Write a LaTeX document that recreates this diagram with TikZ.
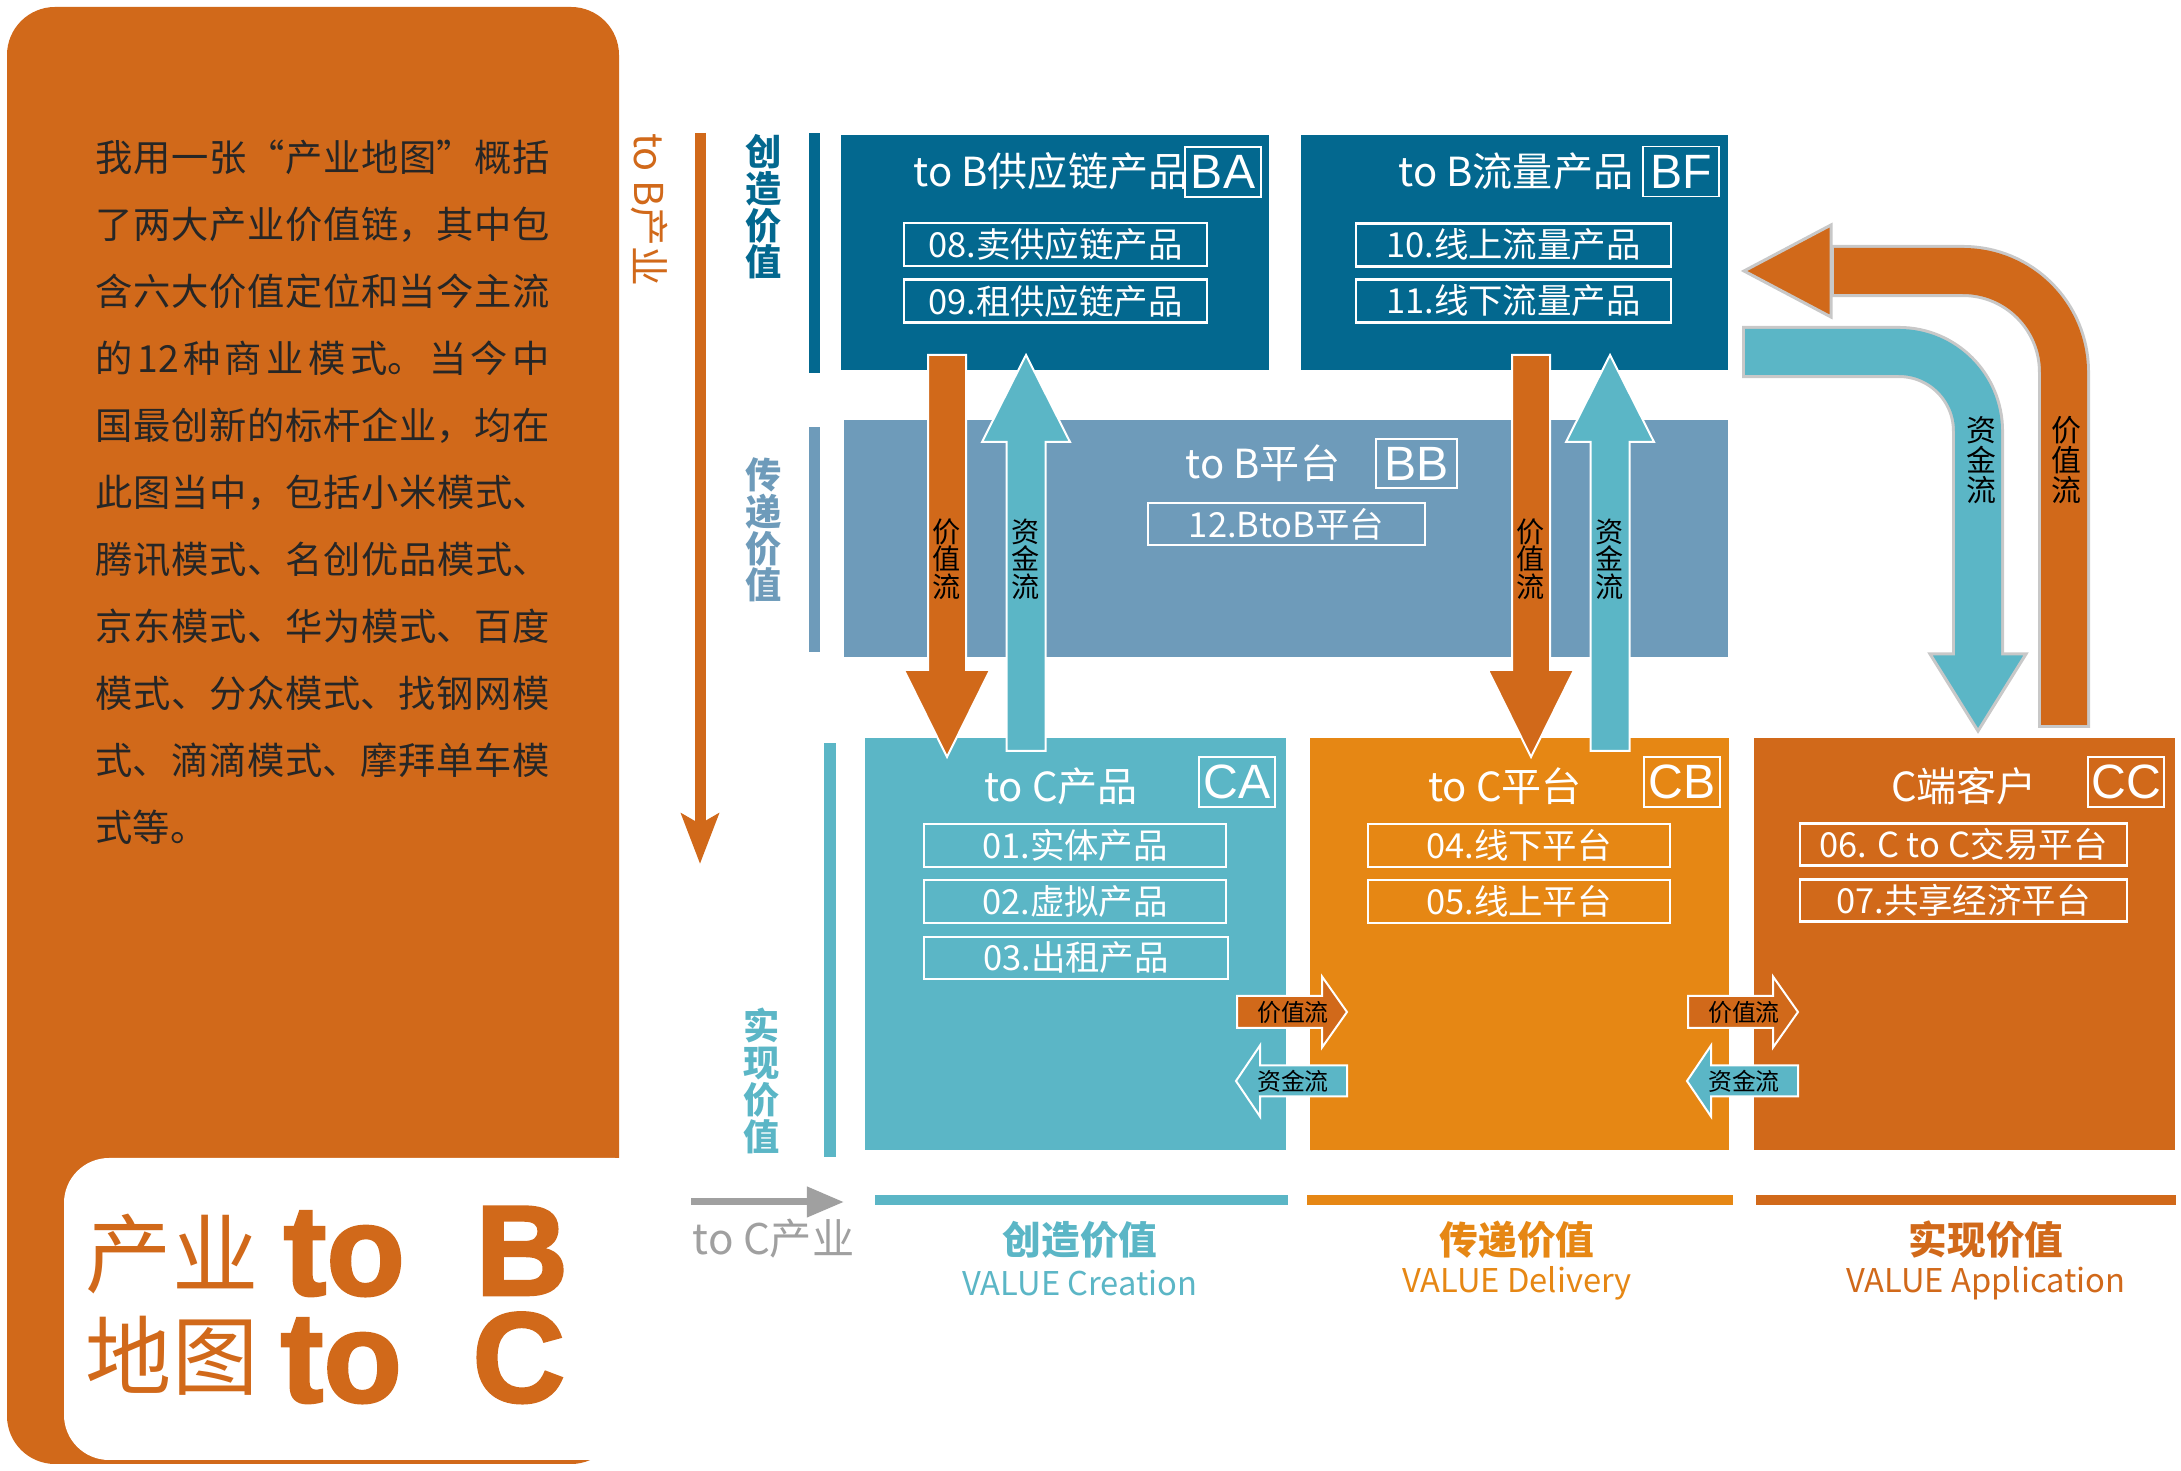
\documentclass[tikz,border=0pt]{standalone}
\usepackage{fontspec}
\usetikzlibrary{arrows.meta}
\newfontfamily\cjk{Noto Sans CJK SC}
\newfontfamily\latin{Liberation Sans}
\newfontfamily\heavy{Liberation Sans}[FakeBold=2]
\XeTeXlinebreaklocale "zh"
\XeTeXlinebreakskip=0pt plus 4pt

\definecolor{tbdark}{HTML}{03688F}
\definecolor{tbmid}{HTML}{6E9BBA}
\definecolor{tcteal}{HTML}{5BB6C6}
\definecolor{tcorange}{HTML}{E68714}
\definecolor{tcrust}{HTML}{D1691A}
\definecolor{arrowgray}{HTML}{A0A0A0}
\definecolor{rimgray}{HTML}{C8C8C8}

\newcommand{\setfs}[2]{\fontsize{#1}{#2}\selectfont}
% vertical block arrow: style, x, tail y, base y, tip y, half shaft, half head
\newcommand{\vblock}[7]{%
  \draw[#1] (#2-#6,#3) -- (#2-#6,#4) -- (#2-#7,#4) -- (#2,#5)
    -- (#2+#7,#4) -- (#2+#6,#4) -- (#2+#6,#3) -- cycle;}
% horizontal block arrow: style, y, tail x, base x, tip x, half shaft, half head
\newcommand{\hblock}[7]{%
  \draw[#1] (#3,#2-#6) -- (#4,#2-#6) -- (#4,#2-#7) -- (#5,#2)
    -- (#4,#2+#7) -- (#4,#2+#6) -- (#3,#2+#6) -- cycle;}

\begin{document}
\begin{tikzpicture}[x=0.01cm, y=-0.01cm,
  zone/.style={inner sep=0pt, outer sep=0pt},
  boxtitle/.style={inner sep=0pt, text=white, font=\cjk\setfs{11.4}{13}},
  codebox/.style={draw=white, line width=0.012cm, inner sep=0pt, minimum width=0.76cm,
    minimum height=0.5cm, text=white, font=\latin\setfs{13.7}{14}},
  itembox/.style={draw=white, line width=0.025cm, inner sep=0pt, minimum height=0.43cm,
    text=white, font=\cjk\setfs{9.8}{11}},
  vlabel/.style={inner sep=0pt, align=center, font=\cjk\bfseries\setfs{10.3}{10.45}},
  flowtext/.style={inner sep=0pt, align=center, text=black, font=\cjk\setfs{8}{7.8}},
  smalltext/.style={inner sep=0pt, text=black, font=\cjk\setfs{6.8}{8}},
  whiterim/.style={draw=white, line width=0.02cm},
  valuehead/.style={inner sep=0pt, font=\cjk\bfseries\setfs{11}{12}},
  valuesub/.style={inner sep=0pt, font=\cjk\setfs{9.3}{10}},
  bigword/.style={inner sep=0pt, anchor=base west, font=\heavy\bfseries\setfs{36.5}{37}, text=tcrust}]
  \useasboundingbox (0,0) rectangle (2181,1471);
  \fill[white] (0,0) rectangle (2181,1471);

  % left panel
  \fill[tcrust, rounded corners=0.48cm] (7,7) rectangle (619,1464);
  \fill[white, rounded corners=0.45cm] (64,1158) rectangle (660,1460);
  \node[anchor=north west, inner sep=0pt, text width=4.54cm, align=justify,
    font=\cjk\setfs{10.6}{19.06}, text=black!85] (intro) at (95,139)
    {\noindent\tolerance=9999 我用一张“产业地图”概括\linebreak
     了两大产业价值链，其中包\linebreak
     含六大价值定位和当今主流\linebreak
     的12种商业模式。当今中\linebreak
     国最创新的标杆企业，均在\linebreak
     此图当中，包括小米模式、\linebreak
     腾讯模式、名创优品模式、\linebreak
     京东模式、华为模式、百度\linebreak
     模式、分众模式、找钢网模\linebreak
     式、滴滴模式、摩拜单车模\linebreak
     式等。};
  \node[inner sep=0pt, font=\cjk\setfs{24.5}{25}, text=tcrust] (cn1) at (172,1254) {产业};
  \node[inner sep=0pt, font=\cjk\setfs{24.5}{25}, text=tcrust] (cn2) at (172,1356) {地图};
  \node[bigword] (toB) at (283,1295) {to\hspace{0.55em}B};
  \node[bigword] (toC) at (280,1402) {to\hspace{0.55em}C};

  % to B axis
  \node[inner sep=0pt, rotate=-90, font=\cjk\setfs{11.3}{12}, text=tcrust] (tobtext) at (649,210) {to B产业};
  \coordinate (tobS) at (700,133);
  \coordinate (tobE) at (700,864);
  \draw[tcrust, line width=0.11cm, -{Stealth[length=0.5cm, width=0.37cm, inset=0.1cm]}] (tobS) -- (tobE);

  % row labels
  \fill[tbdark] (809,133) rectangle (820,373);
  \fill[tbmid] (809,427) rectangle (820,652);
  \fill[tcteal] (824,743) rectangle (836,1157);
  \node[vlabel, text=tbdark] (rowA) at (764,207) {创\\造\\价\\值};
  \node[vlabel, text=tbmid] (rowB) at (764,530) {传\\递\\价\\值};
  \node[vlabel, text=tcteal] (rowC) at (762,1081) {实\\现\\价\\值};

  % to B boxes
  \node[zone, fill=tbdark, minimum width=4.28cm, minimum height=2.35cm] (BA) at (1055,252.5) {};
  \node[zone, fill=tbdark, minimum width=4.27cm, minimum height=2.35cm] (BF) at (1514.5,252.5) {};
  \node[zone, fill=tbmid, minimum width=8.84cm, minimum height=2.37cm] (BB) at (1286,538.5) {};
  \node[boxtitle] (tBA) at (1051,171) {to B供应链产品};
  \node[codebox] (cBA) at (1223,172) {BA};
  \node[itembox, minimum width=3.03cm] (i08) at (1055.5,244.5) {08.卖供应链产品};
  \node[itembox, minimum width=3.03cm] (i09) at (1055.5,301) {09.租供应链产品};
  \node[boxtitle] (tBF) at (1516,171) {to B流量产品};
  \node[codebox] (cBF) at (1681,171.5) {BF};
  \node[itembox, minimum width=3.15cm] (i10) at (1513.5,245) {10.线上流量产品};
  \node[itembox, minimum width=3.15cm] (i11) at (1513.5,301) {11.线下流量产品};
  \node[boxtitle] (tBB) at (1263,463) {to B平台};
  \node[codebox, minimum width=0.81cm, minimum height=0.49cm] (cBB) at (1416.5,463.5) {BB};
  \node[itembox, minimum width=2.77cm, minimum height=0.42cm] (i12) at (1286.5,524) {12.BtoB平台};

  % to C boxes
  \node[zone, fill=tcteal, minimum width=4.21cm, minimum height=4.12cm] (CA) at (1075.5,944) {};
  \node[zone, fill=tcorange, minimum width=4.19cm, minimum height=4.12cm] (CB) at (1519.5,944) {};
  \node[zone, fill=tcrust, minimum width=4.21cm, minimum height=4.12cm] (CC) at (1964.5,944) {};
  \node[boxtitle] (tCA) at (1061,786) {to C产品};
  \node[codebox] (cCA) at (1237,782) {CA};
  \node[itembox, minimum width=3.02cm] (i01) at (1075,845.5) {01.实体产品};
  \node[itembox, minimum width=3.02cm] (i02) at (1075,901.5) {02.虚拟产品};
  \node[itembox, minimum width=3.04cm, minimum height=0.42cm] (i03) at (1076,958) {03.出租产品};
  \node[boxtitle] (tCB) at (1505,786) {to C平台};
  \node[codebox] (cCB) at (1682,782) {CB};
  \node[itembox, minimum width=3.02cm] (i04) at (1519,845.5) {04.线下平台};
  \node[itembox, minimum width=3.02cm] (i05) at (1519,901.5) {05.线上平台};
  \node[boxtitle] (tCC) at (1964,786) {C端客户};
  \node[codebox] (cCC) at (2126,782) {CC};
  \node[itembox, minimum width=3.27cm, minimum height=0.42cm] (i06) at (1963.5,844.5) {06. C to C交易平台};
  \node[itembox, minimum width=3.27cm, minimum height=0.42cm] (i07) at (1963.5,900.5) {07.共享经济平台};

  % flows between the rows
  \vblock{fill=tcrust, whiterim}{947}{355}{670}{757}{19}{43}
  \vblock{fill=tcteal, whiterim}{1026}{751}{442}{355}{19.5}{44}
  \vblock{fill=tcrust, whiterim}{1531}{355}{670}{757}{19}{43}
  \vblock{fill=tcteal, whiterim}{1610}{751}{442}{355}{19.5}{44}
  \node[flowtext] (vA) at (947,559) {价\\值\\流};
  \node[flowtext] (fA) at (1026,559) {资\\金\\流};
  \node[flowtext] (vB) at (1531,559) {价\\值\\流};
  \node[flowtext] (fB) at (1610,559) {资\\金\\流};

  % flows between the columns
  \hblock{fill=tcrust, whiterim}{1012}{1237}{1322}{1347}{16}{35.5}
  \hblock{fill=tcteal, whiterim}{1081}{1347}{1260}{1236}{15.5}{35.5}
  \hblock{fill=tcrust, whiterim}{1012}{1688}{1773}{1798}{16}{35.5}
  \hblock{fill=tcteal, whiterim}{1081}{1798}{1711}{1687}{15.5}{35.5}
  \node[smalltext] (vAB) at (1293,1012) {价值流};
  \node[smalltext] (fAB) at (1293,1081) {资金流};
  \node[smalltext] (vBC) at (1744,1012) {价值流};
  \node[smalltext] (fBC) at (1744,1081) {资金流};

  % loop between BF and CC
  \draw[rimgray, line width=0.52cm, rounded corners=0.79cm] (1742,352) -- (1978,352) -- (1978,654);
  \draw[fill=tcteal, draw=rimgray, line width=0.03cm] (1930,654) -- (1978,731) -- (2026,654) -- cycle;
  \draw[tcteal, line width=0.46cm, rounded corners=0.79cm] (1745,352) -- (1978,352) -- (1978,657);
  \draw[rimgray, line width=0.52cm, rounded corners=1.01cm] (2064,728) -- (2064,271) -- (1831,271);
  \draw[fill=tcrust, draw=rimgray, line width=0.03cm] (1831,225) -- (1744,271) -- (1831,317) -- cycle;
  \draw[tcrust, line width=0.46cm, rounded corners=1.01cm] (2064,725) -- (2064,271) -- (1834,271);
  \node[flowtext, font=\cjk\setfs{8.5}{8.6}] (fR) at (1981,460) {资\\金\\流};
  \node[flowtext, font=\cjk\setfs{8.5}{8.6}] (vR) at (2066,460) {价\\值\\流};

  % to C axis and value stages
  \coordinate (tocS) at (691,1202);
  \coordinate (tocE) at (844,1202);
  \draw[arrowgray, line width=0.07cm, -{Triangle[length=0.37cm, width=0.29cm]}] (tocS) -- (tocE);
  \node[inner sep=0pt, anchor=base west, font=\cjk\setfs{12}{13}, text=arrowgray] (toctext) at (692,1255) {to C产业};
  \fill[tcteal] (875,1195) rectangle (1288,1205);
  \fill[tcorange] (1307,1195) rectangle (1733,1205);
  \fill[tcrust] (1756,1195) rectangle (2176,1205);
  \node[valuehead, text=tcteal] (sA) at (1080,1240) {创造价值};
  \node[valuesub, text=tcteal] (eA) at (1080,1283) {VALUE Creation};
  \node[valuehead, text=tcorange] (sB) at (1517,1240) {传递价值};
  \node[valuesub, text=tcorange] (eB) at (1517,1283) {VALUE Delivery};
  \node[valuehead, text=tcrust] (sC) at (1986,1240) {实现价值};
  \node[valuesub, text=tcrust] (eC) at (1986,1283) {VALUE Application};
\end{tikzpicture}
\end{document}
